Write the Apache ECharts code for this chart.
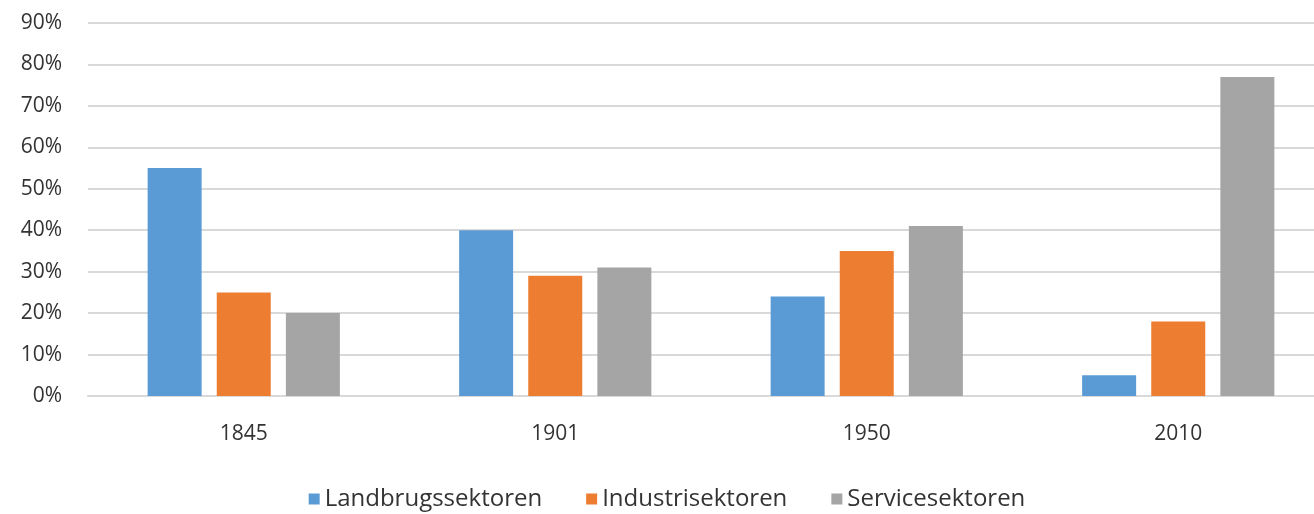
<!DOCTYPE html>
<html>
<head>
<meta charset="utf-8">
<script src="https://cdn.jsdelivr.net/npm/echarts@6/dist/echarts.min.js"></script>
<style>
html,body{margin:0;padding:0;background:#fff;overflow:hidden;width:1314px;height:514px;}
#chart{width:1334px;height:514px;}
</style>
</head>
<body>
<div id="chart"></div>
<script>
const categories = ['1845', '1901', '1950', '2010'];
const landbrug = [55, 40, 24, 5];
const industri = [25, 29, 35, 18];
const service = [20, 31, 41, 77];
const seriesNames = ['Landbrugssektoren', 'Industrisektoren', 'Servicesektoren'];
const yTicks = { min: 0, max: 90, interval: 10 };

const FONT = '"Open Sans", sans-serif';
const chart = echarts.init(document.getElementById('chart'), null, { renderer: 'canvas' });
const colors = ['#5B9BD5', '#ED7D31', '#A5A5A5'];
const mk = (name, data, i) => ({
  name, type: 'bar', data,
  barWidth: 54, barGap: '28%',
  itemStyle: { color: colors[i] },
  emphasis: { disabled: true }
});
chart.setOption({
  animation: false,
  backgroundColor: '#fff',
  grid: { left: 88, top: 23, right: 0, bottom: 118, containLabel: false },
  legend: {
    data: seriesNames,
    left: 'center', top: 482,
    icon: 'rect', itemWidth: 11, itemHeight: 11, itemGap: 44,
    textStyle: { fontFamily: FONT, fontSize: 24, color: '#333333' }
  },
  xAxis: {
    type: 'category', data: categories,
    axisTick: { show: false },
    axisLine: { lineStyle: { color: '#d9d9d9', width: 2 } },
    axisLabel: { margin: 28, fontFamily: FONT, fontSize: 21, color: '#333333' }
  },
  yAxis: {
    type: 'value', min: yTicks.min, max: yTicks.max, interval: yTicks.interval,
    axisLine: { show: false }, axisTick: { show: false },
    splitLine: { lineStyle: { color: '#d9d9d9', width: 2 } },
    axisLabel: { margin: 26, formatter: '{value}%', fontFamily: FONT, fontSize: 21, color: '#333333' }
  },
  series: [mk(seriesNames[0], landbrug, 0), mk(seriesNames[1], industri, 1), mk(seriesNames[2], service, 2)]
});
</script>
</body>
</html>
